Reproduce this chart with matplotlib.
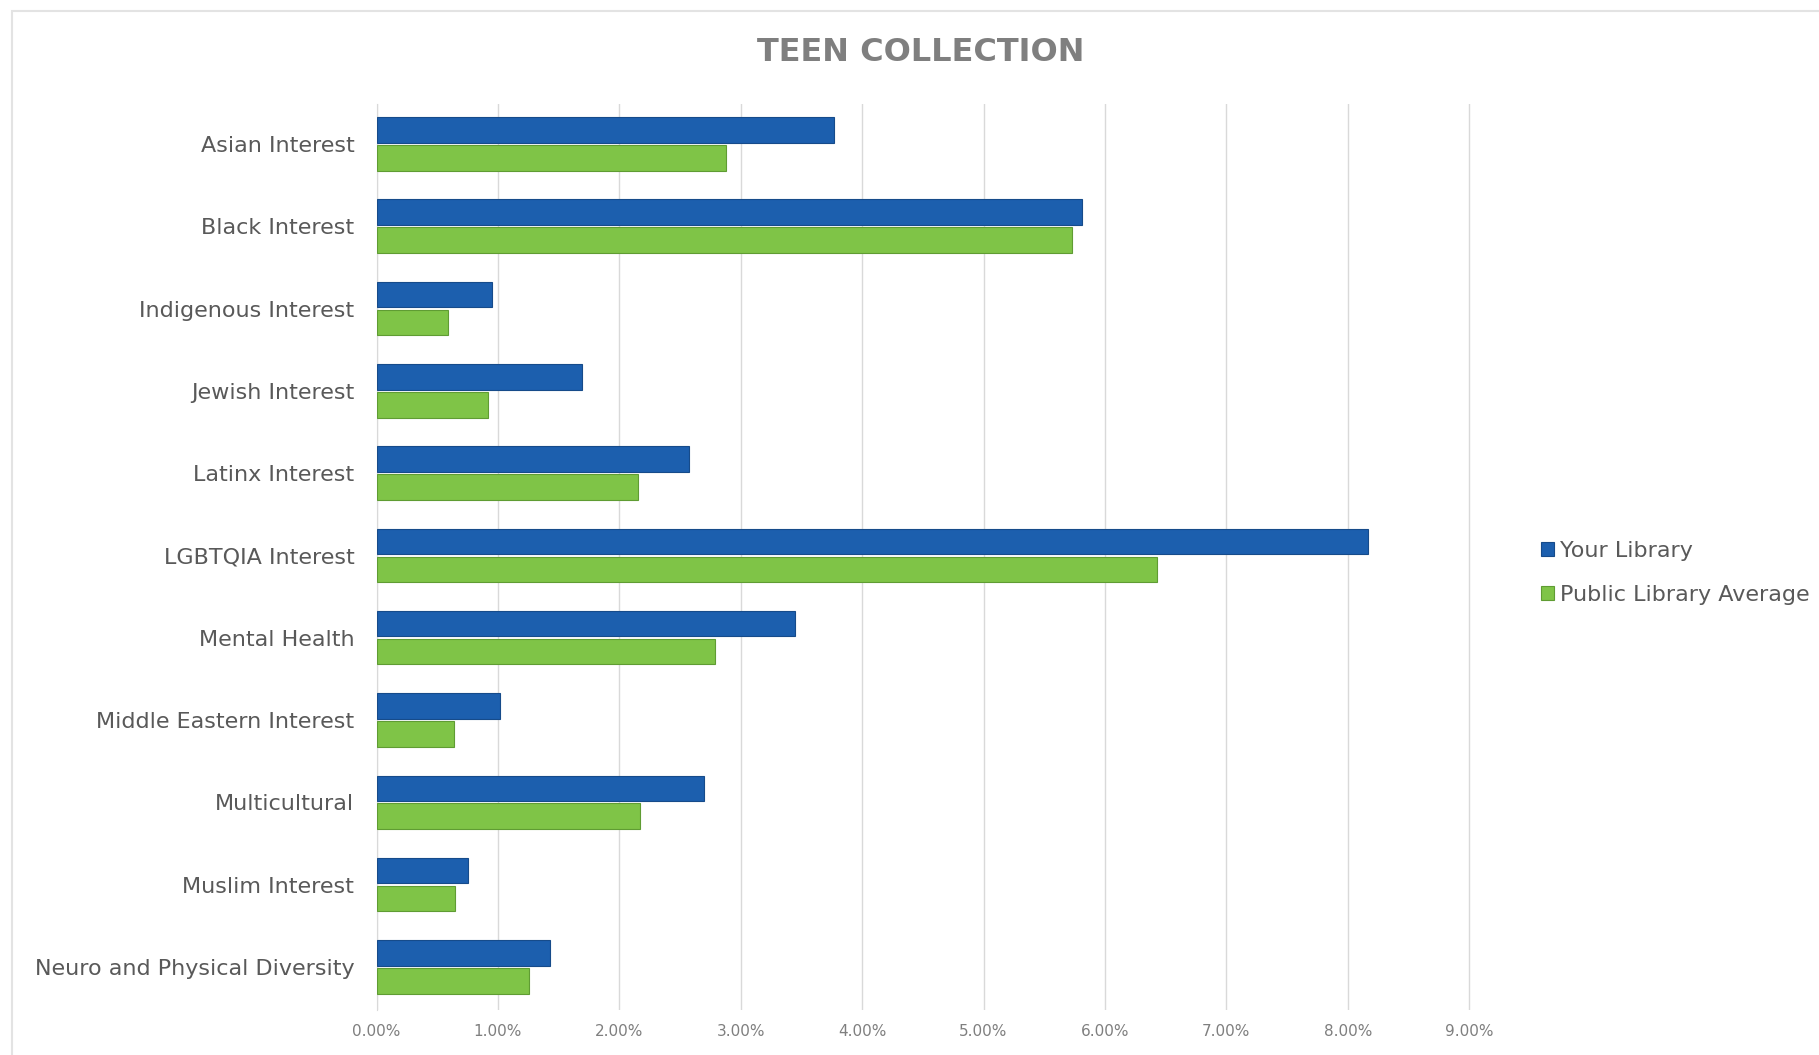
#!/usr/bin/env python3
"""Teen collection share by interest area: your library vs public library average."""

import matplotlib.pyplot as plt
import numpy as np
from matplotlib.patches import Rectangle
from matplotlib.ticker import FuncFormatter

CATEGORIES = [
    "Asian Interest",
    "Black Interest",
    "Indigenous Interest",
    "Jewish Interest",
    "Latinx Interest",
    "LGBTQIA Interest",
    "Mental Health",
    "Middle Eastern Interest",
    "Multicultural",
    "Muslim Interest",
    "Neuro and Physical Diversity",
]
YOUR_LIBRARY = [3.77, 5.81, 0.95, 1.69, 2.57, 8.17, 3.45, 1.02, 2.70, 0.75, 1.43]
PUBLIC_AVERAGE = [2.88, 5.73, 0.59, 0.92, 2.15, 6.43, 2.79, 0.64, 2.17, 0.65, 1.26]
SERIES_NAMES = ["Your Library", "Public Library Average"]
X_TICKS = [0, 1, 2, 3, 4, 5, 6, 7, 8, 9]

BLUE = "#1c5fae"
GREEN = "#7fc447"
TEXT_GRAY = "#595959"


def main() -> None:
    fig = plt.figure(figsize=(18.19, 10.55), dpi=100)
    ax = fig.add_axes([0.207, 0.043, 0.602, 0.858])

    y = np.arange(len(CATEGORIES))
    height = 0.31
    offset = 0.17
    ax.barh(y - offset, YOUR_LIBRARY, height=height, color=BLUE,
            edgecolor="#164b8a", linewidth=0.8, label=SERIES_NAMES[0], zorder=3)
    ax.barh(y + offset, PUBLIC_AVERAGE, height=height, color=GREEN,
            edgecolor="#5f9c33", linewidth=0.8, label=SERIES_NAMES[1], zorder=3)

    ax.set_ylim(len(CATEGORIES) - 0.48, -0.48)
    ax.set_xlim(0, 9.02)
    ax.set_yticks(y)
    ax.set_yticklabels(CATEGORIES, fontsize=16, color=TEXT_GRAY)
    ax.set_xticks(X_TICKS)
    ax.xaxis.set_major_formatter(FuncFormatter(lambda v, _: f"{v:.2f}%"))
    ax.tick_params(axis="x", labelsize=11, colors="#7f7f7f", length=0, pad=10)
    ax.tick_params(axis="y", length=0, pad=16)

    ax.grid(True, axis="x", color="#d9d9d9", linewidth=1.0, zorder=0)
    for side in ("top", "right", "bottom"):
        ax.spines[side].set_visible(False)
    ax.spines["left"].set_color("#d9d9d9")

    fig.text(0.506, 0.95, "TEEN COLLECTION", ha="center", va="center",
             fontsize=23, fontweight="heavy", color="#7f7f7f")

    fig.legend(loc="center left", bbox_to_anchor=(0.836, 0.457), frameon=False,
               fontsize=16, handlelength=0.6, handleheight=0.6,
               handletextpad=0.25, labelspacing=1.05, labelcolor=TEXT_GRAY)

    # light outer chart border, running off the right and bottom edges
    fig.patches.append(Rectangle((0.0066, -0.05), 1.2, 1.04, transform=fig.transFigure,
                                 fill=False, edgecolor="#e3e3e3", linewidth=1.5))

    fig.savefig("out.png", dpi=100)
    plt.close(fig)


if __name__ == "__main__":
    main()
